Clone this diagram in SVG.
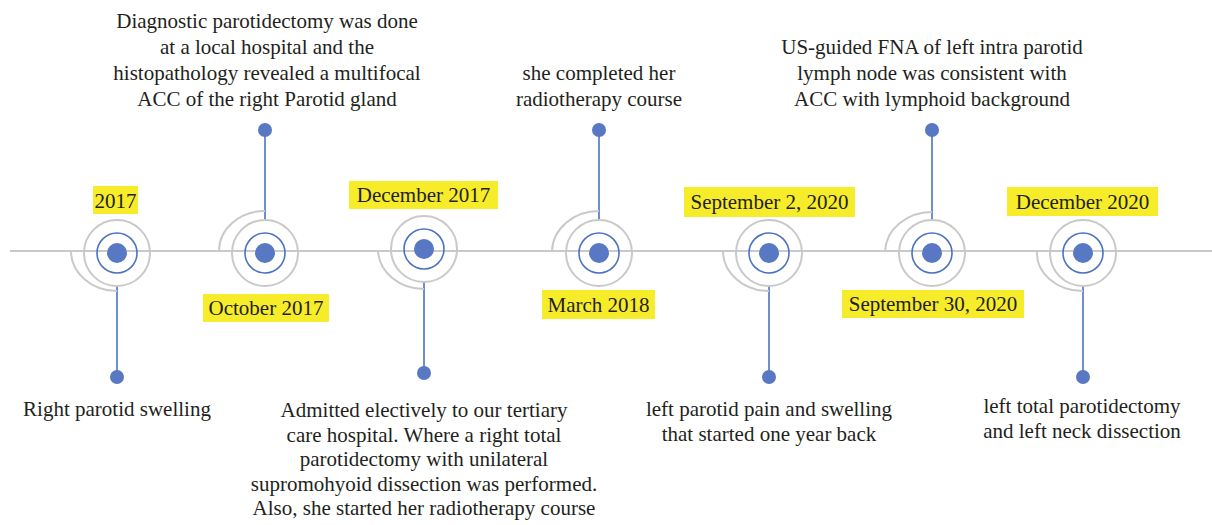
<svg xmlns="http://www.w3.org/2000/svg" width="1212" height="525" viewBox="0 0 1212 525">
<style>
.axis{stroke:#c9c9c9;stroke-width:2;fill:none}
.ring{stroke:#c9c9c9;stroke-width:2;fill:none}
.arc{stroke:#c9c9c9;stroke-width:2;fill:none}
.bring{stroke:#4a72c2;stroke-width:1.6;fill:none}
.core{fill:#5878c4}
.conn{stroke:#4a72c2;stroke-width:1.6}
.dot{fill:#5878c4}
.hl{fill:#f7ec2a}
text{font-family:"Liberation Serif","Times New Roman",serif;font-size:21px;fill:#231f20;text-anchor:middle}
</style>
<rect width="1212" height="525" fill="#ffffff"/>
<g id="connectors">
<line class="axis" x1="10" y1="251" x2="1212" y2="251"/>
<line class="conn" x1="117" y1="286" x2="117" y2="377"/>
<line class="conn" x1="265" y1="220" x2="265" y2="130"/>
<line class="conn" x1="424" y1="282" x2="424" y2="373"/>
<line class="conn" x1="599" y1="220" x2="599" y2="130"/>
<line class="conn" x1="769" y1="286" x2="769" y2="377"/>
<line class="conn" x1="932" y1="220" x2="932" y2="130"/>
<line class="conn" x1="1083" y1="286" x2="1083" y2="377"/>
</g>
<g id="node1">
<path class="arc" d="M71,251 A46 40 0 0 0 117,291"/>
<circle class="ring" cx="117" cy="253" r="33"/>
<circle class="bring" cx="117" cy="253" r="20"/>
<circle class="core" cx="117" cy="253" r="10"/>
<circle class="dot" cx="117" cy="377" r="7"/>
<rect class="hl" x="93" y="186" width="45" height="28"/>
<text x="115.5" y="208">2017</text>
<text x="117" y="416">Right parotid swelling</text>
</g>
<g id="node2">
<path class="arc" d="M219,251 A46 40 0 0 1 265,211"/>
<circle class="ring" cx="265" cy="253" r="33"/>
<circle class="bring" cx="265" cy="253" r="20"/>
<circle class="core" cx="265" cy="253" r="10"/>
<circle class="dot" cx="265" cy="130" r="7"/>
<rect class="hl" x="203" y="294" width="126" height="28"/>
<text x="266" y="315">October 2017</text>
<text x="267" y="28">Diagnostic parotidectomy was done</text>
<text x="267" y="54">at a local hospital and the</text>
<text x="267" y="80">histopathology revealed a multifocal</text>
<text x="267" y="106">ACC of the right Parotid gland</text>
</g>
<g id="node3">
<path class="arc" d="M378,251 A46 40 0 0 0 424,289"/>
<circle class="ring" cx="424" cy="249" r="33"/>
<circle class="bring" cx="424" cy="249" r="20"/>
<circle class="core" cx="424" cy="249" r="10"/>
<circle class="dot" cx="424" cy="373" r="7"/>
<rect class="hl" x="349" y="181" width="149" height="28"/>
<text x="423.5" y="202">December 2017</text>
<text x="424" y="417">Admitted electively to our tertiary</text>
<text x="424" y="441.5">care hospital. Where a right total</text>
<text x="424" y="466">parotidectomy with unilateral</text>
<text x="424" y="490.5">supromohyoid dissection was performed.</text>
<text x="424" y="515">Also, she started her radiotherapy course</text>
</g>
<g id="node4">
<path class="arc" d="M552,251 A47 41 0 0 1 599,211"/>
<circle class="ring" cx="599" cy="253" r="33"/>
<circle class="bring" cx="599" cy="253" r="20"/>
<circle class="core" cx="599" cy="253" r="10"/>
<circle class="dot" cx="599" cy="130" r="7"/>
<rect class="hl" x="542" y="290" width="113" height="29"/>
<text x="598.5" y="312">March 2018</text>
<text x="599" y="80">she completed her</text>
<text x="599" y="106">radiotherapy course</text>
</g>
<g id="node5">
<path class="arc" d="M723,251 A46 40 0 0 0 769,291"/>
<circle class="ring" cx="769" cy="253" r="33"/>
<circle class="bring" cx="769" cy="253" r="20"/>
<circle class="core" cx="769" cy="253" r="10"/>
<circle class="dot" cx="769" cy="377" r="7"/>
<rect class="hl" x="684" y="187" width="171" height="30"/>
<text x="769.5" y="209">September 2, 2020</text>
<text x="769" y="416">left parotid pain and swelling</text>
<text x="769" y="441">that started one year back</text>
</g>
<g id="node6">
<path class="arc" d="M885,251 A47 41 0 0 1 932,212"/>
<circle class="ring" cx="932" cy="253" r="33"/>
<circle class="bring" cx="932" cy="253" r="20"/>
<circle class="core" cx="932" cy="253" r="10"/>
<circle class="dot" cx="932" cy="130" r="7"/>
<rect class="hl" x="842" y="290" width="182" height="28"/>
<text x="933" y="311">September 30, 2020</text>
<text x="932" y="54">US-guided FNA of left intra parotid</text>
<text x="932" y="80">lymph node was consistent with</text>
<text x="932" y="106">ACC with lymphoid background</text>
</g>
<g id="node7">
<path class="arc" d="M1037,251 A46 38 0 0 0 1083,291"/>
<circle class="ring" cx="1083" cy="253" r="33"/>
<circle class="bring" cx="1083" cy="253" r="20"/>
<circle class="core" cx="1083" cy="253" r="10"/>
<circle class="dot" cx="1083" cy="377" r="7"/>
<rect class="hl" x="1007" y="187" width="151" height="29"/>
<text x="1082.5" y="209">December 2020</text>
<text x="1082" y="413">left total parotidectomy</text>
<text x="1082" y="438">and left neck dissection</text>
</g>
</svg>
